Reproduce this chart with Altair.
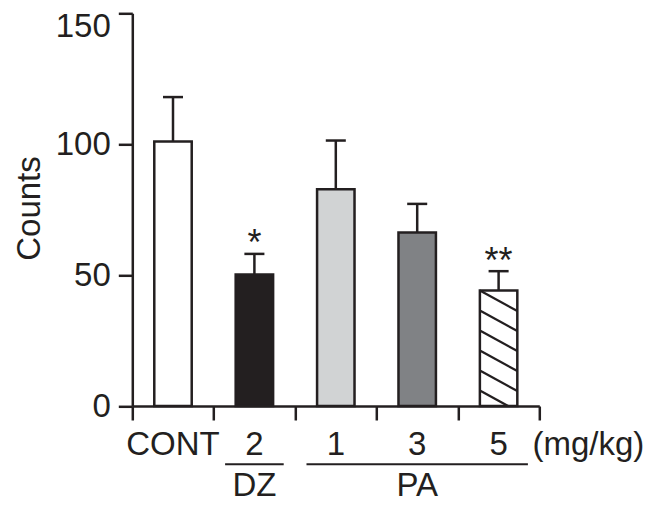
import altair as alt
import pandas as pd

# ---------------- data ----------------
tick_labels = ["CONT", "2", "1", "3", "5"]
bar_groups = ["CONT", "DZ", "PA", "PA", "PA"]
means = [101.0, 50.2, 82.8, 66.3, 44.1]
sems = [17.0, 7.9, 18.6, 10.9, 7.4]
signif = ["", "*", "", "", "**"]
hatched = [False, False, False, False, True]
unit_label = ["(mg/kg)"]
group_names = ["DZ", "PA"]
group_first = [1, 2]
group_last = [1, 4]
y_ticks = [0, 50, 100, 150]

# ---------------- styles / layout ----------------
fills = ["#ffffff", "#231f20", "#d1d3d4", "#808285", "#ffffff"]
INK = "#231f20"
FONT = "Liberation Sans"
FS = 33
W, H = 407, 392.7
YMAX = 150
N = len(means)
SW = 2.5

bar_id = [f"{g} {t}" for g, t in zip(bar_groups, tick_labels)]
df = pd.DataFrame({
    "bar": bar_id, "label": tick_labels, "mean": means, "sem": sems,
    "sig": signif, "hatched": hatched,
})
df["idx"] = range(N)
df["x0"] = df["idx"] + 0.27
df["x1"] = df["idx"] + 0.73
df["xc"] = df["idx"] + 0.5
df["top"] = df["mean"] + df["sem"]
df["c0"] = df["xc"] - 0.123
df["c1"] = df["xc"] + 0.123

# hatch segments inside hatched bars (decoration derived from the bar geometry)
dy_per_px = YMAX / H
rows = []
for _, r in df[df["hatched"]].iterrows():
    step = 20 * dy_per_px
    drop = 20.5 * dy_per_px
    k = 0
    while True:
        yl = r["mean"] - k * step
        if yl <= 0:
            break
        yr = yl - drop
        xa, xb = r["x0"], r["x1"]
        if yr < 0:
            xb = xa + (xb - xa) * yl / (yl - yr)
            yr = 0.0
        rows.append({"hx0": xa, "hx1": xb, "hy0": yl, "hy1": yr})
        k += 1
hatch = pd.DataFrame(rows)

gdf = pd.DataFrame({"name": group_names, "first": group_first, "last": group_last})
gdf["gx0"] = gdf["first"] + 0.14
gdf["gx1"] = gdf["last"] + 1 - 0.14
gdf["gxc"] = (gdf["first"] + gdf["last"] + 1) / 2

udf = pd.DataFrame({"t": unit_label, "ux": [N]})

XS = alt.Scale(domain=[0, N], nice=False, zero=False)
YS = alt.Scale(domain=[0, YMAX], nice=False)
XAX = alt.Axis(values=list(range(N + 1)), labels=False, tickSize=14, tickWidth=SW,
               domainWidth=SW, domainColor=INK, tickColor=INK, grid=False, title=None)
YAX = alt.Axis(values=y_ticks, tickSize=14, tickWidth=SW, domainWidth=SW,
               domainColor=INK, tickColor=INK, grid=False,
               labelFont=FONT, labelFontSize=FS, labelColor=INK, labelPadding=8,
               labelOffset={"condition": {"test": "datum.value == 150", "value": 13}, "value": 0},
               title="Counts", titleFont=FONT, titleFontSize=FS, titleFontWeight="normal",
               titleColor=INK, titleAngle=270, titleBaseline="alphabetic", titleAlign="center",
               titleX=-93, titleY=194.7)


def X(f):
    return alt.X(f, type="quantitative", scale=XS, axis=XAX)


def Y(f):
    return alt.Y(f, type="quantitative", scale=YS, axis=YAX)


base = alt.Chart(df)

stems = base.mark_rule(color=INK, strokeWidth=SW).encode(x=X("xc"), y=Y("mean"), y2="top")
caps = base.mark_rule(color=INK, strokeWidth=SW).encode(x=X("c0"), x2="c1", y=Y("top"))
bars = base.mark_bar(stroke=INK, strokeWidth=SW, opacity=1).encode(
    x=X("x0"), x2="x1", y=Y("mean"), y2=alt.datum(0),
    fill=alt.Fill("bar:N", scale=alt.Scale(domain=bar_id, range=fills), legend=None),
)
hatch_l = alt.Chart(hatch).mark_rule(color=INK, strokeWidth=2.3).encode(
    x=X("hx0"), x2="hx1", y=Y("hy0"), y2="hy1")
stars = base.mark_text(font=FONT, fontSize=36, color=INK, baseline="alphabetic", dy=1.5).encode(
    x=X("xc"), y=Y("top"), text="sig:N")
ticklab = base.mark_text(font=FONT, fontSize=FS, color=INK, baseline="alphabetic").encode(
    x=X("xc"), y=alt.value(441.7), text="label:N")
unit = alt.Chart(udf).mark_text(font=FONT, fontSize=FS, color=INK, baseline="alphabetic",
                                align="right").encode(
    x=alt.value(W + 105), y=alt.value(441.7), text="t:N")
glines = alt.Chart(gdf).mark_rule(color=INK, strokeWidth=2).encode(
    x=X("gx0"), x2="gx1", y=alt.value(451))
gtext = alt.Chart(gdf).mark_text(font=FONT, fontSize=FS, color=INK, baseline="alphabetic").encode(
    x=X("gxc"), y=alt.value(482.7), text="name:N")

chart = alt.layer(stems, caps, bars, hatch_l, stars, ticklab, unit, glines, gtext).properties(
    width=W, height=H,
    background="white",
    autosize=alt.AutoSizeParams(type="none"),
    padding={"left": 124.3, "top": 5.3, "right": 108.7, "bottom": 99},
).configure_view(stroke=None)

chart.save("out.html", embed_options={"renderer": "svg", "actions": False})
